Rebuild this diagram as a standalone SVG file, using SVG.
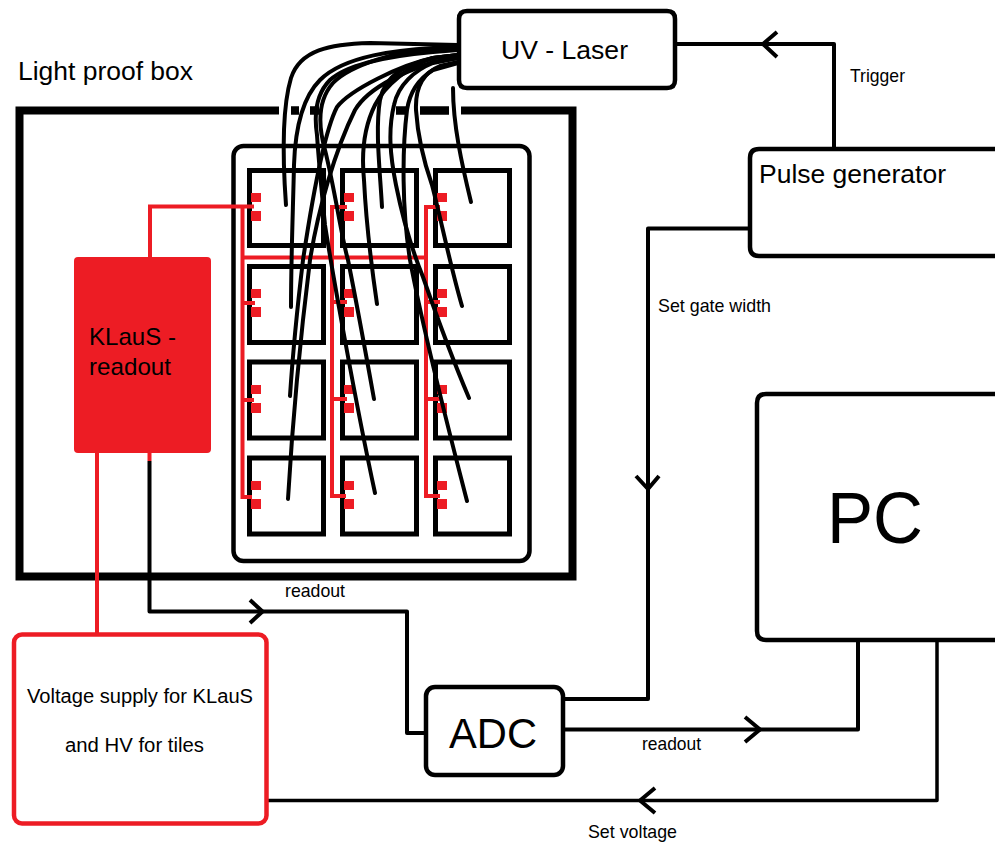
<svg xmlns="http://www.w3.org/2000/svg" width="995" height="843" viewBox="0 0 995 843">
<style>
text{font-family:"Liberation Sans",Arial,sans-serif;fill:#000}
.box{fill:#fff;stroke:#000;stroke-width:4.5}
.tile{fill:none;stroke:#000;stroke-width:5}
.wire{fill:none;stroke:#000;stroke-width:4;stroke-linejoin:round}
.red{fill:none;stroke:#ed1c24;stroke-width:4}
.fib{fill:none;stroke:#000;stroke-width:4;stroke-linecap:round}
.pad{fill:#ed1c24}
.s{font-size:17.7px}
</style>
<defs>
<g id="pads"><rect x="0" y="0" width="10" height="9"/><rect x="0" y="18" width="10" height="10"/></g>
</defs>
<rect width="995" height="843" fill="#fff"/>
<g id="light-proof-box">
<rect x="19.500" y="110.500" width="553" height="466" fill="none" stroke="#000" stroke-width="8"/>
<path d="M279 110.500h12M299 110.500h11M319 110.500h77M407 110.500h13M449 110.500h12" stroke="#fff" stroke-width="10" fill="none"/>
<path d="M291 110.500h8M310 110.500h9M396 110.500h11M420 110.500h29" stroke="#000" stroke-width="8" fill="none"/>
<text x="18" y="80" font-size="26" textLength="175" lengthAdjust="spacingAndGlyphs">Light proof box</text>
</g>
<g id="tile-board">
<rect x="233.500" y="146" width="296" height="415" rx="10" fill="none" stroke="#000" stroke-width="4.500"/>
</g>
<g id="tiles">
<rect class="tile" x="249.500" y="170.500" width="74" height="75"/><rect class="tile" x="342.500" y="170.500" width="74" height="75"/><rect class="tile" x="435.500" y="170.500" width="74" height="75"/>
<rect class="tile" x="249.500" y="266.500" width="74" height="76"/><rect class="tile" x="342.500" y="266.500" width="74" height="76"/><rect class="tile" x="435.500" y="266.500" width="74" height="76"/>
<rect class="tile" x="249.500" y="362" width="74" height="76"/><rect class="tile" x="342.500" y="362" width="74" height="76"/><rect class="tile" x="435.500" y="362" width="74" height="76"/>
<rect class="tile" x="249.500" y="458" width="74" height="76"/><rect class="tile" x="342.500" y="458" width="74" height="76"/><rect class="tile" x="435.500" y="458" width="74" height="76"/>
</g>
<g id="tile-pads" class="pad">
<use href="#pads" x="251" y="193"/><use href="#pads" x="344" y="193"/><use href="#pads" x="437" y="193"/>
<use href="#pads" x="251" y="289"/><use href="#pads" x="344" y="289"/><use href="#pads" x="437" y="289"/>
<use href="#pads" x="251" y="385"/><use href="#pads" x="344" y="385"/><use href="#pads" x="437" y="385"/>
<use href="#pads" x="251" y="481"/><use href="#pads" x="344" y="481"/><use href="#pads" x="437" y="481"/>
</g>
<g id="connectors-red">
<path class="red" d="M150 258V206.500H254"/>
<path class="red" d="M242.500 206.500V497H252M242.500 303H255M242.500 400H254"/>
<path class="red" d="M242.500 257.500H426"/>
<path class="red" d="M347 207H332V496H346M332 302H347M332 399H347"/>
<path class="red" d="M440 207H426V496H440M426 302H440M426 399H440"/>
<path class="red" d="M97 453V634"/>
<path d="M149.500 453V461" stroke="#ed1c24" stroke-width="4"/>
</g>
<g id="fibres">
<path class="fib" d="M458 45L370 43C330 44 300 50 291 78C283 105 282 150 286 205"/>
<path class="fib" d="M458 47L433 48C400 50 345 55 320 80C300 100 295 135 294 165C293 210 291 260 291 307"/>
<path class="fib" d="M458 55L433 58C400 65 350 90 337 107C325 130 312 200 303 260C297 310 293 350 290 396"/>
<path class="fib" d="M458 58L433 62C410 70 370 85 355 110C335 150 318 210 310 260C300 340 292 430 288 499"/>
<path class="fib" d="M458 55L433 58C405 65 385 75 380 100C375 130 380 170 382 207"/>
<path class="fib" d="M453 88C453 125 462 165 471 202"/>
<path class="fib" d="M458 55L433 58C410 65 385 85 375 105C365 125 361 150 364 180C366 220 372 270 377 304"/>
<path class="fib" d="M458 62L440 66C425 72 415 85 416 110C418 140 425 165 432 185C440 215 450 265 462 306"/>
<path class="fib" d="M458 47L433 49C400 50 350 65 333 83C318 100 318 125 325 150C335 190 342 240 348 260C358 310 367 360 374 399"/>
<path class="fib" d="M458 58L433 63C415 70 398 85 394 105C388 130 390 155 396 185C403 220 412 250 423 277C438 320 455 365 469 398"/>
<path class="fib" d="M458 50L433 52C400 55 350 62 330 80C315 95 314 115 317 135C319 165 322 195 325 225C332 270 355 400 375 493"/>
<path class="fib" d="M458 63L433 70C420 78 410 90 407 110C402 150 402 210 410 260C425 340 450 435 467 501"/>
</g>
<g id="connectors">
<path class="wire" d="M149.500 461V611.500H407V733H427"/>
<path class="wire" d="M250 600L262.500 611.500L250 623"/>
<path class="wire" d="M563 699H648V228.500H749"/>
<path class="wire" d="M636 476L648 489L659 476"/>
<path class="wire" d="M563 729.500H858V640"/>
<path class="wire" d="M745 717L760 729.500L745 742"/>
<path class="wire" style="stroke-width:3.500" d="M937 640V800.500H268"/>
<path class="wire" d="M655 788L640 800.500L655 813"/>
<path class="wire" d="M834 149V44H676"/>
<path class="wire" d="M777 32L763 44L777 57"/>
</g>
<g id="uv-laser">
<path class="box" style="fill:none" d="M675 19V80Q675 88 667 88H467Q459 88 459 80V19Q459 11 467 11H667Q675 11 675 19Z"/>
<text x="501" y="59" font-size="26.500" textLength="127" lengthAdjust="spacingAndGlyphs">UV - Laser</text>
</g>
<g id="pulse-generator">
<path class="box" d="M995 149H759Q750 149 750 158V247Q750 256 759 256H995"/>
<text x="759" y="183" font-size="26.500" textLength="187" lengthAdjust="spacingAndGlyphs">Pulse generator</text>
</g>
<g id="pc">
<path class="box" d="M995 394H766Q757 394 757 403V631Q757 640 766 640H995"/>
<text x="827" y="543" font-size="72" textLength="96" lengthAdjust="spacingAndGlyphs">PC</text>
</g>
<g id="adc">
<rect class="box" x="426" y="687" width="137" height="88" rx="9"/>
<text x="449" y="748" font-size="42" textLength="88" lengthAdjust="spacingAndGlyphs">ADC</text>
</g>
<g id="klaus-readout">
<rect x="74" y="257" width="137" height="196" rx="4" fill="#ed1c24"/>
<text x="89" y="345" font-size="24" textLength="87" lengthAdjust="spacingAndGlyphs">KLauS -</text>
<text x="89" y="375" font-size="24" textLength="82" lengthAdjust="spacingAndGlyphs">readout</text>
</g>
<g id="voltage-supply">
<rect x="14" y="634.500" width="252.500" height="189" rx="8" fill="#fff" stroke="#ed1c24" stroke-width="4.500"/>
<text x="27" y="703" font-size="20" textLength="226" lengthAdjust="spacingAndGlyphs">Voltage supply for KLauS</text>
<text x="65" y="752" font-size="20" textLength="139" lengthAdjust="spacingAndGlyphs">and HV for tiles</text>
</g>
<g id="labels" class="s">
<text x="850" y="82" textLength="55" lengthAdjust="spacingAndGlyphs">Trigger</text>
<text x="658" y="312" textLength="113" lengthAdjust="spacingAndGlyphs">Set gate width</text>
<text x="285" y="597" textLength="60" lengthAdjust="spacingAndGlyphs">readout</text>
<text x="642" y="750" textLength="59" lengthAdjust="spacingAndGlyphs">readout</text>
<text x="588" y="838" textLength="89" lengthAdjust="spacingAndGlyphs">Set voltage</text>
</g>
</svg>
